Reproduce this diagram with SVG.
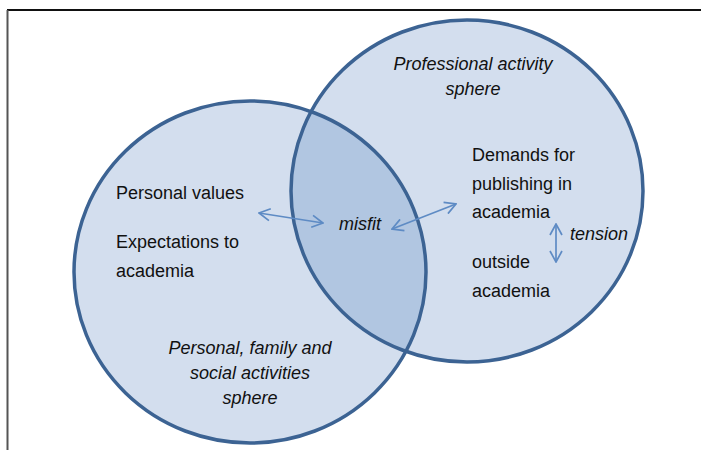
<svg xmlns="http://www.w3.org/2000/svg" width="701" height="450" viewBox="0 0 701 450">
  <style>
    .sphere { fill: #D3DEEE; }
    .edge { fill: none; stroke: #3C6393; stroke-width: 3.5; }
    .overlap { fill: #B1C6E1; }
    .t { font-family: "Liberation Sans", Arial, sans-serif; font-size: 18px; fill: #111; }
    .i { font-style: italic; }
    .conn { fill: none; stroke: #5E8BC4; stroke-width: 1.7; }
  </style>
  <defs>
    <marker id="head" viewBox="0 0 14 14" refX="13" refY="7" markerWidth="14" markerHeight="14" markerUnits="userSpaceOnUse" orient="auto-start-reverse">
      <path d="M2,1 L13,7 L2,13" fill="none" stroke="#5E8BC4" stroke-width="1.7"/>
    </marker>
    <clipPath id="leftClip">
      <ellipse cx="250" cy="272" rx="176" ry="171"/>
    </clipPath>
  </defs>
  <rect width="701" height="450" fill="#fff"/>
  <g id="frame">
    <line x1="7" y1="10" x2="701" y2="10" stroke="#111" stroke-width="2"/>
    <line x1="7.5" y1="10" x2="7.5" y2="450" stroke="#555" stroke-width="2"/>
  </g>
  <g id="personal-sphere">
    <ellipse class="sphere" cx="250" cy="272" rx="176" ry="171"/>
  </g>
  <g id="professional-sphere">
    <ellipse class="sphere" cx="467" cy="191" rx="176" ry="171"/>
  </g>
  <g id="misfit-overlap">
    <ellipse class="overlap" cx="467" cy="191" rx="176" ry="171" clip-path="url(#leftClip)"/>
  </g>
  <g id="outlines">
    <ellipse class="edge" cx="250" cy="272" rx="176" ry="171"/>
    <ellipse class="edge" cx="467" cy="191" rx="176" ry="171"/>
  </g>
  <g id="professional-label">
    <text class="t i" x="473" y="70" text-anchor="middle">Professional activity</text>
    <text class="t i" x="473" y="95" text-anchor="middle">sphere</text>
  </g>
  <g id="demands">
    <text class="t" x="472" y="161">Demands for</text>
    <text class="t" x="472" y="190">publishing in</text>
    <text class="t" x="472" y="218">academia</text>
  </g>
  <g id="outside">
    <text class="t" x="472" y="268">outside</text>
    <text class="t" x="472" y="297">academia</text>
  </g>
  <g id="tension-label">
    <text class="t i" x="570" y="240">tension</text>
  </g>
  <g id="personal-values">
    <text class="t" x="116" y="199">Personal values</text>
  </g>
  <g id="expectations">
    <text class="t" x="116" y="248">Expectations to</text>
    <text class="t" x="116" y="277">academia</text>
  </g>
  <g id="misfit">
    <text class="t i" x="339" y="230">misfit</text>
  </g>
  <g id="personal-label">
    <text class="t i" x="250" y="354" text-anchor="middle">Personal, family and</text>
    <text class="t i" x="250" y="379" text-anchor="middle">social activities</text>
    <text class="t i" x="250" y="404" text-anchor="middle">sphere</text>
  </g>
  <g id="connectors">
    <line class="conn" x1="259" y1="213" x2="323" y2="223" marker-start="url(#head)" marker-end="url(#head)"/>
    <line class="conn" x1="392" y1="229" x2="456" y2="204" marker-start="url(#head)" marker-end="url(#head)"/>
    <line class="conn" x1="556" y1="224" x2="556" y2="262" marker-start="url(#head)" marker-end="url(#head)"/>
  </g>
</svg>
